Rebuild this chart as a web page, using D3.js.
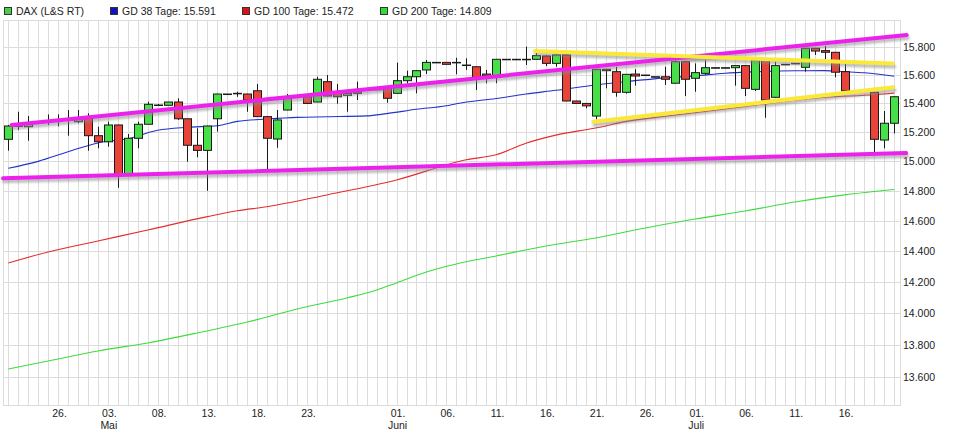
<!DOCTYPE html>
<html><head><meta charset="utf-8">
<script src="https://cdn.jsdelivr.net/npm/d3@7"></script>
<style>
body{margin:0;background:#fff;}
text{font-family:"Liberation Sans",Arial,sans-serif;}
</style>
</head><body>
<svg id="c" width="956" height="433"></svg>
<script>
// ---------- DATA ----------
const dates = ["21.04.","22.04.","23.04.","24.04.","25.04.","26.04.","27.04.","28.04.","29.04.","30.04.",
"03.05.","04.05.","05.05.","06.05.","07.05.","08.05.","09.05.","10.05.","11.05.","12.05.","13.05.","14.05.","15.05.","16.05.","17.05.","18.05.","19.05.","20.05.","21.05.","22.05.","23.05.","24.05.","25.05.","26.05.","27.05.","28.05.","29.05.","30.05.","31.05.",
"01.06.","02.06.","03.06.","04.06.","05.06.","06.06.","07.06.","08.06.","09.06.","10.06.","11.06.","12.06.","13.06.","14.06.","15.06.","16.06.","17.06.","18.06.","19.06.","20.06.","21.06.","22.06.","23.06.","24.06.","25.06.","26.06.","27.06.","28.06.","29.06.","30.06.",
"01.07.","02.07.","03.07.","04.07.","05.07.","06.07.","07.07.","08.07.","09.07.","10.07.","11.07.","12.07.","13.07.","14.07.","15.07.","16.07.","17.07.","18.07.","19.07.","20.07.","21.07."];

const openV  = [15151,15242,15238,null,15273,15280,15286,15273,15308,15176,
15134,15250,14914,15158,15255,15389,15387,15410,15293,15110,15075,15293,15466,15471,15466,15489,15308,15153,15354,null,15447,15410,15553,15471,15457,15471,null,15499,15506,
15471,15560,15588,15636,15690,15690,15690,15671,15659,15607,15584,15712,15712,15712,15712,15736,15683,15743,15417,15400,15312,15641,15624,15478,15607,15600,15588,15588,15542,15695,
15577,15612,15652,15652,15652,15667,15499,15707,15443,15676,15683,15655,15791,15774,15762,15624,null,null,15478,15146,15262];
const highV  = [15250,15342,15312,null,15323,15324,15354,15354,15331,15238,
15273,15252,15188,15273,15412,15396,15410,15436,15293,15227,15245,15468,15466,15482,15468,15537,15310,15354,15466,null,15449,15588,15600,15537,15473,15553,null,15499,15508,
15688,15631,15633,15707,15690,15690,15723,15719,15661,15636,15714,15712,15712,15802,15786,15738,15745,15745,15419,15402,15643,15643,15659,15607,15641,15600,15588,15659,15743,15697,
15683,15707,15652,15652,15669,15669,15709,15709,15695,15676,15683,15793,15793,15807,15764,15683,null,null,15480,15347,15449];
const lowV   = [15073,15215,15141,null,15250,15240,15176,15262,15073,15089,
15100,14821,14912,15089,15255,15382,15387,15285,14998,15028,14801,15204,15466,15447,15342,15308,14948,15093,15352,null,15398,15408,15450,15398,15342,15424,null,15499,15405,
15469,15542,15471,15607,15690,15676,15605,15636,15494,15542,15542,15712,15712,15671,15710,15664,15659,15415,15398,15366,15289,15506,15447,15469,15525,15600,15588,15530,15540,15452,
15482,15600,15652,15652,15525,15452,15487,15300,15441,15676,15683,15624,15743,15712,15584,15487,null,null,15059,15089,15192];
const closeV = [15243,15244,15255,null,15273,15282,15284,15296,15176,15134,
15250,14914,15158,15255,15394,15389,15410,15293,15110,15075,15243,15466,15466,15471,15424,15308,15158,15285,15440,null,15400,15570,15452,15447,15471,15482,null,15499,15436,
15560,15588,15631,15690,15690,15676,15690,15671,15584,15595,15712,15712,15712,15712,15738,15683,15743,15417,15400,15383,15641,15631,15478,15605,15593,15600,15588,15570,15695,15570,
15617,15652,15652,15652,15667,15506,15707,15424,15667,15676,15683,15791,15771,15762,15620,15489,null,null,15151,15262,15447];

// moving averages: [day index, value]
const gd38  = [[0,14953],[3,15000],[6,15066],[9,15126],[12,15155],[15,15213],[18,15234],[21,15245],[23,15275],[26,15291],[29,15303],[32,15307],[36,15313],[38,15329],[41,15359],[44,15384],[45,15398],[49,15435],[52,15466],[55,15492],[59,15530],[62,15553],[66,15580],[69,15594],[72,15613],[75,15623],[79,15630],[82,15631],[84,15624],[86,15616],[89,15591]];
const gd100 = [[0,14323],[4,14395],[9,14467],[14,14539],[20,14628],[23,14667],[26,14694],[32,14773],[39,14874],[46,15011],[49,15045],[52,15124],[55,15180],[59,15229],[62,15273],[66,15311],[70,15344],[75,15388],[82,15443],[87,15461],[89,15472]];
const gd200 = [[0,13650],[4,13699],[9,13762],[14,13812],[19,13875],[24,13944],[29,14027],[34,14097],[37,14148],[39,14194],[42,14265],[45,14317],[49,14369],[54,14434],[59,14487],[64,14553],[69,14612],[74,14665],[79,14725],[84,14773],[89,14809]];

// drawn trend lines (start/end in day index / value)
const trendMagenta = [[[0.34,15250],[90.25,15886]], [[-0.53,14885],[90.2,15057]]];
const trendYellow  = [[[52.9,15771],[88.87,15682]], [[58.77,15273],[88.9,15513]]];

const yTicks = [13600,13800,14000,14200,14400,14600,14800,15000,15200,15400,15600,15800];
const xTickIdx   = [5,10,15,20,25,30,39,44,49,54,59,64,69,74,79,84];
const xTickText  = ["26.","03.","08.","13.","18.","23.","01.","06.","11.","16.","21.","26.","01.","06.","11.","16."];
const monthIdx   = [10,39,69];
const monthText  = ["Mai","Juni","Juli"];

const legendNames = ["DAX (L&S RT)","GD 38 Tage: 15.591","GD 100 Tage: 15.472","GD 200 Tage: 14.809"];

// ---------- LAYOUT ----------
const svg = d3.select("#c");
const L = 3, R = 899.5, T = 20, B = 405;
const x = d3.scaleLinear().domain([0, dates.length - 1]).range([8.3, 894.3]);
const y = d3.scaleLog().domain([13600, 15800]).range([377, 47]);
const fmt = d3.formatLocale({decimal:",", thousands:".", grouping:[3], currency:["","€"]}).format(",d");

const grid = svg.append("g").attr("stroke", "#dcdcdc").attr("stroke-width", 1).attr("shape-rendering","crispEdges");
grid.selectAll("line.v").data(d3.range(dates.length)).join("line")
  .attr("x1", i => Math.round(x(i)) + 0.5).attr("x2", i => Math.round(x(i)) + 0.5)
  .attr("y1", T).attr("y2", B);
grid.selectAll("line.h").data(yTicks).join("line")
  .attr("x1", L).attr("x2", R + 1)
  .attr("y1", d => Math.round(y(d)) + 0.5).attr("y2", d => Math.round(y(d)) + 0.5);
grid.append("rect").attr("x", L + 0.5).attr("y", T + 0.5).attr("width", R - L).attr("height", B - T)
  .attr("fill", "none");

// axes
const yAxis = svg.append("g").attr("transform", `translate(${R},0)`)
  .call(d3.axisRight(y).tickValues(yTicks).tickFormat(fmt).tickSize(0).tickPadding(3.5));
yAxis.select(".domain").remove();
yAxis.selectAll("text").attr("font-size", "10.5px").attr("fill", "#222")
  .style("font-family", '"Liberation Sans", Arial, sans-serif');

const xAxis = svg.append("g").attr("transform", `translate(0,${B})`)
  .call(d3.axisBottom(x).tickValues(xTickIdx).tickFormat((d, i) => xTickText[i]).tickSize(0).tickPadding(4.5));
xAxis.select(".domain").remove();
xAxis.selectAll("text").attr("font-size", "10.5px").attr("fill", "#222").attr("dx", "1")
  .style("font-family", '"Liberation Sans", Arial, sans-serif');

svg.append("g").selectAll("text").data(monthIdx).join("text")
  .attr("x", d => x(d) + 1).attr("y", 429).attr("text-anchor", "middle")
  .attr("font-size", "10.5px").attr("fill", "#222").text((d, i) => monthText[i]);

// moving averages
const line = d3.line().x(d => x(d[0])).y(d => y(d[1])).curve(d3.curveMonotoneX);
const maG = svg.append("g").attr("fill", "none").attr("stroke-width", 1.1);
maG.append("path").datum(gd200).attr("d", line).attr("stroke", "#3ddc3d");
maG.append("path").datum(gd100).attr("d", line).attr("stroke", "#e42c2c");
maG.append("path").datum(gd38).attr("d", line).attr("stroke", "#2233cc");

// candles
const idx = d3.range(dates.length).filter(i => openV[i] !== null);
const cg = svg.append("g");
const bw = 8;
cg.selectAll("line").data(idx).join("line")
  .attr("x1", i => Math.round(x(i)) + 0.5).attr("x2", i => Math.round(x(i)) + 0.5)
  .attr("y1", i => y(highV[i])).attr("y2", i => y(lowV[i]))
  .attr("stroke", "#1a1a1a").attr("stroke-width", 1);
cg.selectAll("rect").data(idx).join("rect")
  .attr("x", i => Math.round(x(i)) + 0.5 - bw / 2)
  .attr("width", bw)
  .attr("y", i => Math.min(y(openV[i]), y(closeV[i])))
  .attr("height", i => Math.max(0.5, Math.abs(y(openV[i]) - y(closeV[i]))))
  .attr("fill", i => closeV[i] > openV[i] ? "#48e048" : (closeV[i] < openV[i] ? "#e8443a" : "#222"))
  .attr("stroke", "#1a1a1a").attr("stroke-width", 1);

// trend lines with shadow
const defs = svg.append("defs");
defs.append("filter").attr("id", "blur").attr("x", "-5%").attr("y", "-50%").attr("width", "110%").attr("height", "200%")
  .append("feGaussianBlur").attr("stdDeviation", 1.3);
const tl = d3.line().x(d => x(d[0])).y(d => y(d[1]));
const tg = svg.append("g").attr("fill", "none").attr("stroke-linecap", "round");
const allTrends = trendMagenta.map(d => ({pts: d, c: "#ec22ec"})).concat(trendYellow.map(d => ({pts: d, c: "#fbe93a"})));
tg.selectAll("path.s").data(allTrends).join("path")
  .attr("d", d => tl(d.pts)).attr("transform", "translate(1,3)")
  .attr("stroke", "#888").attr("stroke-opacity", 0.55).attr("stroke-width", 4).attr("filter", "url(#blur)");
tg.selectAll("path.m").data(allTrends).join("path")
  .attr("d", d => tl(d.pts)).attr("stroke", d => d.c).attr("stroke-width", 4);

// legend
const legColors = ["#45d045", "#1010c8", "#dd1111", "#30dd30"];
const legX = [4, 110, 242, 380];
const lg = svg.append("g");
legendNames.forEach((n, i) => {
  lg.append("rect").attr("x", legX[i] + 0.5).attr("y", 7.5).attr("width", 7).attr("height", 7)
    .attr("fill", legColors[i]).attr("stroke", "#333").attr("stroke-width", 1);
  lg.append("text").attr("x", legX[i] + 12).attr("y", 14.8).attr("font-size", "10.5px").attr("fill", "#222").text(n);
});
</script>
</body></html>
